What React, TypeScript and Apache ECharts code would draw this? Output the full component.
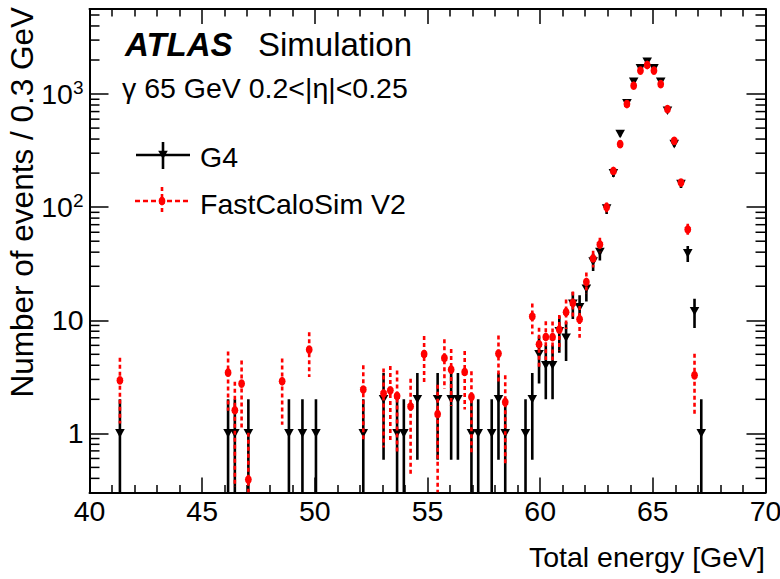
import React, { useEffect, useRef } from "react";
import * as echarts from "echarts";

const FONT = "'Liberation Sans', Arial, Helvetica, sans-serif";

// X axis (Total energy, GeV) and Y axis (log) ranges
const X_MIN = 40;
const X_MAX = 70;
const X_INTERVAL = 5;
const Y_MIN = 0.3;
const Y_MAX = 5650;

// G4 histogram (bin width 0.3 GeV, bin centres)
const g4Energy = [
  41.35, 46.15, 46.45, 47.05, 48.85, 49.45, 50.05, 52.15, 53.05, 53.65, 53.95,
  54.55, 55.45, 56.05, 56.35, 56.95, 57.25, 57.85, 58.15, 58.45, 59.35, 59.65,
  59.95, 60.25, 60.55, 60.85, 61.15, 61.45, 61.75, 62.05, 62.35, 62.65, 62.95,
  63.25, 63.55, 63.85, 64.15, 64.45, 64.75, 65.05, 65.35, 65.65, 65.95, 66.25,
  66.55, 66.85, 67.15,
];
const g4Counts = [
  1, 1, 1, 1, 1, 1, 1, 1, 2, 1, 1,
  2, 2, 2, 2, 1, 1, 1, 2, 1, 1, 2,
  5, 4, 4, 8, 7, 14, 13, 19, 33, 40, 97,
  199, 443, 828, 1285, 1687, 1930, 1687, 1285, 711, 361, 160,
  39, 12, 1,
];

// FastCaloSim V2 histogram
const fcsEnergy = [
  41.35, 46.15, 46.45, 46.75, 47.05, 48.55, 49.75, 52.15, 53.05, 53.35, 53.65,
  54.25, 54.85, 55.45, 55.75, 56.05, 56.65, 56.95, 58.15, 58.45, 59.65, 59.95,
  60.25, 60.55, 60.85, 61.15, 61.45, 61.75, 62.05, 62.35, 62.65, 62.95, 63.25,
  63.55, 63.85, 64.15, 64.45, 64.75, 65.05, 65.35, 65.65, 65.95, 66.25, 66.55,
  66.85,
];
const fcsValues = [
  2.94, 3.44, 1.6, 2.75, 0.39, 2.89, 5.5, 2.44, 2.25, 2.4, 2.14,
  1.73, 5.03, 1.48, 4.64, 3.66, 3.49, 2.1, 5.07, 1.89, 10.8, 6.13,
  7.11, 7.1, 8.27, 11.8, 14.2, 10.2, 21.8, 35.2, 46.8, 100, 209,
  361, 816, 1185, 1610, 1806, 1610, 1225, 736, 386, 165, 63.5,
  3.26,
];

// minor tick positions for log axis
const yMinorTicks = [
  0.4, 0.5, 0.6, 0.7, 0.8, 0.9,
  2, 3, 4, 5, 6, 7, 8, 9,
  20, 30, 40, 50, 60, 70, 80, 90,
  200, 300, 400, 500, 600, 700, 800, 900,
  2000, 3000, 4000, 5000,
];

const triPoints = (cx: number, cy: number) => [
  [cx - 4.8, cy - 4.3],
  [cx + 4.8, cy - 4.3],
  [cx, cy + 4.3],
];
const dotPoints = (cx: number, cy: number) => {
  const pts: number[][] = [];
  for (let i = 0; i < 12; i++) {
    const a = (i / 12) * Math.PI * 2;
    pts.push([cx + 3.4 * Math.cos(a), cy + 4.4 * Math.sin(a)]);
  }
  return pts;
};

function makeSeries(
  name: string,
  xs: number[],
  ys: number[],
  kind: "g4" | "fcs"
) {
  return {
    type: "custom",
    name,
    xAxisIndex: 0,
    yAxisIndex: 0,
    z: kind === "g4" ? 3 : 4,
    clip: true,
    encode: { x: 0, y: 1 },
    data: xs.map((x, i) => [x, ys[i], Math.sqrt(ys[i])]),
    renderItem: (params: any, api: any) => {
      const x = api.value(0);
      const y = api.value(1);
      const e = api.value(2);
      const lo = Math.max(y - e, Y_MIN);
      const hi = Math.min(y + e, Y_MAX);
      const p = api.coord([x, y]);
      const pl = api.coord([x, lo]);
      const ph = api.coord([x, hi]);
      const color = kind === "g4" ? "#000000" : "#ff0000";
      const children: any[] = [
        {
          type: "line",
          shape: { x1: ph[0], y1: ph[1], x2: pl[0], y2: pl[1] },
          style: {
            stroke: color,
            lineWidth: 2.6,
            lineDash: kind === "g4" ? null : [4, 3],
          },
        },
        {
          type: "polygon",
          shape: {
            points: kind === "g4" ? triPoints(p[0], p[1]) : dotPoints(p[0], p[1]),
          },
          style: { fill: color, stroke: null },
        },
      ];
      return { type: "group", children };
    },
  };
}

export default function App() {
  const ref = useRef<HTMLDivElement>(null);

  useEffect(() => {
    if (!ref.current) return;
    const chart = echarts.init(ref.current, undefined, { renderer: "svg" });

    const axisLine = { show: true, onZero: false, lineStyle: { color: "#000", width: 2 } };
    const xTick = { show: true, inside: true, length: 15, lineStyle: { color: "#000", width: 1.5 } };
    const xMinor = { show: true, splitNumber: 5, length: 7.5, lineStyle: { color: "#000", width: 1.5 } };
    const yTick = { show: true, inside: true, length: 19, lineStyle: { color: "#000", width: 1.5 } };

    const option: any = {
      animation: false,
      backgroundColor: "#ffffff",
      textStyle: { fontFamily: FONT },
      grid: {
        left: 89.5,
        right: 14.5,
        top: 9,
        bottom: 86.5,
        containLabel: false,
        outerBoundsMode: "none",
        show: false,
      },
      xAxis: [
        {
          type: "value",
          position: "bottom",
          min: X_MIN,
          max: X_MAX,
          interval: X_INTERVAL,
          axisLine,
          axisTick: xTick,
          minorTick: xMinor,
          splitLine: { show: false },
          minorSplitLine: { show: false },
          axisLabel: {
            show: true,
            color: "#000",
            fontSize: 28.5,
            fontFamily: FONT,
            margin: 4,
          },
        },
        {
          type: "value",
          position: "top",
          min: X_MIN,
          max: X_MAX,
          interval: X_INTERVAL,
          axisLine,
          axisTick: xTick,
          minorTick: xMinor,
          splitLine: { show: false },
          minorSplitLine: { show: false },
          axisLabel: { show: false },
        },
      ],
      yAxis: [
        {
          type: "log",
          logBase: 10,
          position: "left",
          min: Y_MIN,
          max: Y_MAX,
          axisLine,
          axisTick: yTick,
          splitLine: { show: false },
          minorTick: { show: false },
          axisLabel: {
            show: true,
            showMinLabel: false,
            showMaxLabel: false,
            color: "#000",
            margin: 6,
            fontFamily: FONT,
            fontSize: 28.5,
            formatter: (v: number) => {
              const e = Math.round(Math.log10(v));
              if (e === 0) return "{b|1}";
              if (e === 1) return "{b|10}";
              return "{b|10}{s|" + e + "}";
            },
            rich: {
              b: { fontSize: 28.5, lineHeight: 32, fontFamily: FONT, color: "#000" },
              s: {
                fontSize: 19,
                lineHeight: 20,
                verticalAlign: "top",
                fontFamily: FONT,
                color: "#000",
              },
            },
          },
        },
        {
          type: "log",
          logBase: 10,
          position: "right",
          min: Y_MIN,
          max: Y_MAX,
          axisLine,
          axisTick: yTick,
          splitLine: { show: false },
          minorTick: { show: false },
          axisLabel: { show: false },
        },
      ],
      series: [
        {
          type: "custom",
          name: "yMinorTicks",
          xAxisIndex: 0,
          yAxisIndex: 0,
          z: 1,
          encode: { x: 0, y: 1 },
          data: yMinorTicks.map((v) => [X_MIN, v]),
          renderItem: (params: any, api: any) => {
            const v = api.value(1);
            const l = api.coord([X_MIN, v]);
            const r = api.coord([X_MAX, v]);
            return {
              type: "group",
              children: [
                {
                  type: "line",
                  shape: { x1: l[0], y1: l[1], x2: l[0] + 10, y2: l[1] },
                  style: { stroke: "#000", lineWidth: 1.5 },
                },
                {
                  type: "line",
                  shape: { x1: r[0] - 10, y1: r[1], x2: r[0], y2: r[1] },
                  style: { stroke: "#000", lineWidth: 1.5 },
                },
              ],
            };
          },
        },
        makeSeries("G4", g4Energy, g4Counts, "g4"),
        makeSeries("FastCaloSim V2", fcsEnergy, fcsValues, "fcs"),
      ],
      graphic: [
        {
          type: "text",
          x: 125,
          y: 44,
          style: {
            text: "ATLAS",
            fontFamily: FONT,
            fontSize: 33,
            fontWeight: "bold",
            fontStyle: "italic",
            fill: "#000",
            textAlign: "left",
            textVerticalAlign: "middle",
          },
        },
        {
          type: "text",
          x: 258,
          y: 44,
          style: {
            text: "Simulation",
            fontFamily: FONT,
            fontSize: 33,
            fill: "#000",
            textAlign: "left",
            textVerticalAlign: "middle",
          },
        },
        {
          type: "text",
          x: 122,
          y: 88,
          style: {
            text: "γ 65 GeV 0.2<|η|<0.25",
            fontFamily: FONT,
            fontSize: 28.5,
            fill: "#000",
            textAlign: "left",
            textVerticalAlign: "middle",
          },
        },
        // legend: G4
        {
          type: "line",
          shape: { x1: 136, y1: 155, x2: 190, y2: 155 },
          style: { stroke: "#000", lineWidth: 2.6 },
        },
        {
          type: "line",
          shape: { x1: 163, y1: 142, x2: 163, y2: 169 },
          style: { stroke: "#000", lineWidth: 2.6 },
        },
        {
          type: "polygon",
          shape: { points: triPoints(163, 155) },
          style: { fill: "#000" },
        },
        {
          type: "text",
          x: 200,
          y: 157,
          style: {
            text: "G4",
            fontFamily: FONT,
            fontSize: 28.5,
            fill: "#000",
            textAlign: "left",
            textVerticalAlign: "middle",
          },
        },
        // legend: FastCaloSim V2
        {
          type: "line",
          shape: { x1: 135, y1: 201, x2: 189, y2: 201 },
          style: { stroke: "#ff0000", lineWidth: 2.6, lineDash: [5, 3] },
        },
        {
          type: "line",
          shape: { x1: 162, y1: 187, x2: 162, y2: 214 },
          style: { stroke: "#ff0000", lineWidth: 2.6, lineDash: [4, 3] },
        },
        {
          type: "polygon",
          shape: { points: dotPoints(162, 201) },
          style: { fill: "#ff0000" },
        },
        {
          type: "text",
          x: 200,
          y: 204,
          style: {
            text: "FastCaloSim V2",
            fontFamily: FONT,
            fontSize: 28.5,
            fill: "#000",
            textAlign: "left",
            textVerticalAlign: "middle",
          },
        },
        // axis titles
        {
          type: "text",
          x: 765,
          y: 557,
          style: {
            text: "Total energy [GeV]",
            fontFamily: FONT,
            fontSize: 28.5,
            fill: "#000",
            textAlign: "right",
            textVerticalAlign: "middle",
          },
        },
        {
          type: "text",
          x: 22,
          y: 7,
          rotation: Math.PI / 2,
          style: {
            text: "Number of events / 0.3 GeV",
            fontFamily: FONT,
            fontSize: 31.5,
            fill: "#000",
            textAlign: "right",
            textVerticalAlign: "middle",
          },
        },
      ],
    };

    chart.setOption(option);
    return () => chart.dispose();
  }, []);

  return (
    <div
      ref={ref}
      style={{ position: "fixed", left: 0, top: 0, width: 780, height: 579, background: "#fff" }}
    />
  );
}
